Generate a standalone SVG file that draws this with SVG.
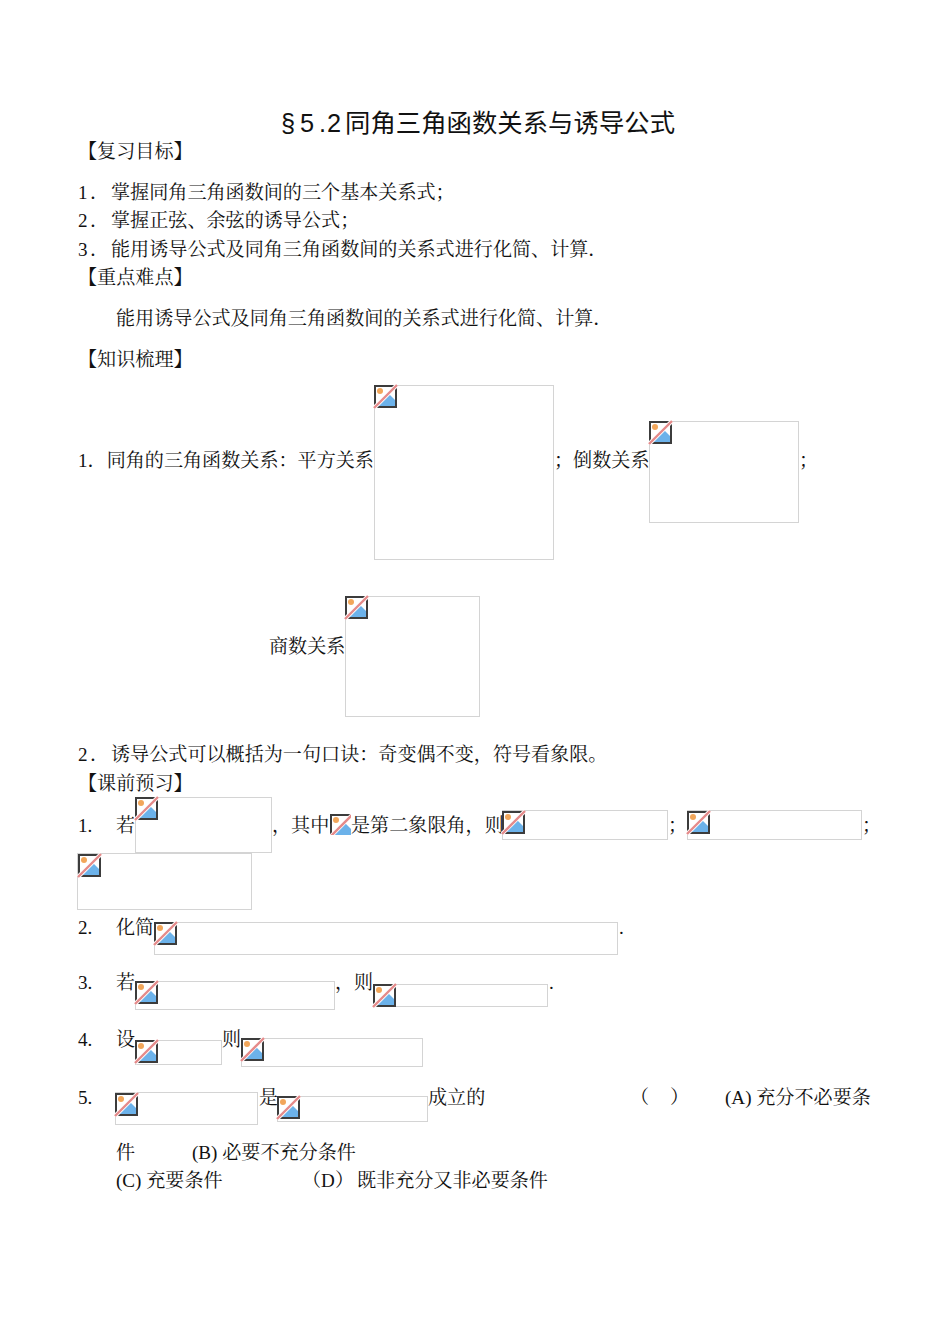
<svg xmlns="http://www.w3.org/2000/svg" width="950" height="1342" viewBox="0 0 950 1342">
<style>
text{font-family:"Liberation Serif","Noto Serif CJK SC",serif;font-size:19.1px;fill:#111}
.t{font-family:"Liberation Sans","Noto Sans CJK SC",sans-serif;font-size:25.33px}
.b{fill:#fff;stroke:#d4d4d4;stroke-width:1}
</style>
<defs>
<g id="ic">
<rect x="1" y="1" width="21" height="21" fill="#fff" stroke="#3c3c3c" stroke-width="2"/>
<path d="M2 21L14 8L21 15V21Z" fill="#6cb2ea"/>
<circle cx="6" cy="6" r="3" fill="#f2a65a"/>
<path d="M0 23L23 0" stroke="#fff" stroke-width="4"/>
<path d="M0 23L23 0" stroke="#e58a8a" stroke-width="2.400"/>
</g>
<clipPath id="c5"><rect x="330" y="814" width="21" height="21"/></clipPath>
</defs>
<rect width="950" height="1342" fill="#fff"/>
<g id="connectors"/>
<g id="text" transform="translate(0 0.6)">
<text class="t" x="281 300 319 327" y="131">§5.2</text>
<text class="t" x="345" y="131" textLength="330">同角三角函数关系与诱导公式</text>
<text x="78" y="157">【复习目标】</text>
<text x="78 90" y="198">1．</text><text x="111" y="198">掌握同角三角函数间的三个基本关系式；</text>
<text x="78 90" y="226">2．</text><text x="111" y="226">掌握正弦、余弦的诱导公式；</text>
<text x="78 90" y="255">3．</text><text x="111" y="255">能用诱导公式及同角三角函数间的关系式进行化简、计算．</text>
<text x="78" y="283">【重点难点】</text>
<text x="116" y="324">能用诱导公式及同角三角函数间的关系式进行化简、计算．</text>
<text x="78" y="365">【知识梳理】</text>
<text x="78" y="466">1．同角的三角函数关系：平方关系</text>
<text x="554" y="466">；倒数关系</text>
<text x="799" y="466">；</text>
<text x="269" y="652">商数关系</text>
<text x="78 90" y="760">2．</text><text x="111" y="760">诱导公式可以概括为一句口诀：奇变偶不变，符号看象限。</text>
<text x="78" y="789">【课前预习】</text>
<text x="78" y="831">1.</text><text x="116" y="831">若</text>
<text x="272" y="831">，其中</text><text x="351" y="831">是第二象限角，则</text>
<text x="668" y="831">；</text><text x="862" y="831">；</text>
<text x="78" y="933">2.</text><text x="116" y="933">化简</text><text x="619" y="933">.</text>
<text x="78" y="988">3.</text><text x="116" y="988">若</text><text x="335" y="988">，则</text><text x="549" y="988">.</text>
<text x="78" y="1045">4.</text><text x="116" y="1045">设</text><text x="222" y="1045">则</text>
<text x="78" y="1103">5.</text><text x="259" y="1103">是</text><text x="428" y="1103">成立的</text>
<text x="630" y="1103">（</text><text x="670" y="1103">）</text><text x="725" y="1103">(A) 充分不必要条</text>
<text x="116" y="1158">件</text><text x="192" y="1158">(B) 必要不充分条件</text>
<text x="116" y="1186">(C) 充要条件</text><text x="302" y="1186">（D）<tspan x="357">既非充分又非必要条件</tspan></text>
</g>
<g id="img1"><rect class="b" x="374.500" y="385.500" width="179" height="174"/><use href="#ic" x="374" y="385"/></g>
<g id="img2"><rect class="b" x="649.500" y="421.500" width="149" height="101"/><use href="#ic" x="649" y="421"/></g>
<g id="img3"><rect class="b" x="345.500" y="596.500" width="134" height="120"/><use href="#ic" x="345" y="596"/></g>
<g id="img4"><rect class="b" x="135.500" y="797.500" width="136" height="55"/><use href="#ic" x="135" y="797"/></g>
<g id="img5" clip-path="url(#c5)"><use href="#ic" x="330" y="814"/></g>
<g id="img6"><rect class="b" x="502.500" y="810.500" width="165" height="29"/><use href="#ic" x="502" y="811"/></g>
<g id="img7"><rect class="b" x="687.500" y="810.500" width="174" height="29"/><use href="#ic" x="687" y="811"/></g>
<g id="img8"><rect class="b" x="77.500" y="853.500" width="174" height="56"/><use href="#ic" x="78" y="854"/></g>
<g id="img9"><rect class="b" x="154.500" y="922.500" width="463" height="32"/><use href="#ic" x="154" y="922"/></g>
<g id="img10"><rect class="b" x="135.500" y="981.500" width="199" height="28"/><use href="#ic" x="135" y="981"/></g>
<g id="img11"><rect class="b" x="373.500" y="984.500" width="174" height="22"/><use href="#ic" x="373" y="984"/></g>
<g id="img12"><rect class="b" x="135.500" y="1040.500" width="86" height="24"/><use href="#ic" x="135" y="1040"/></g>
<g id="img13"><rect class="b" x="241.500" y="1038.500" width="181" height="28"/><use href="#ic" x="241" y="1038"/></g>
<g id="img14"><rect class="b" x="115.500" y="1092.500" width="142" height="32"/><use href="#ic" x="115" y="1093"/></g>
<g id="img15"><rect class="b" x="277.500" y="1096.500" width="150" height="25"/><use href="#ic" x="277" y="1096"/></g>
</svg>
